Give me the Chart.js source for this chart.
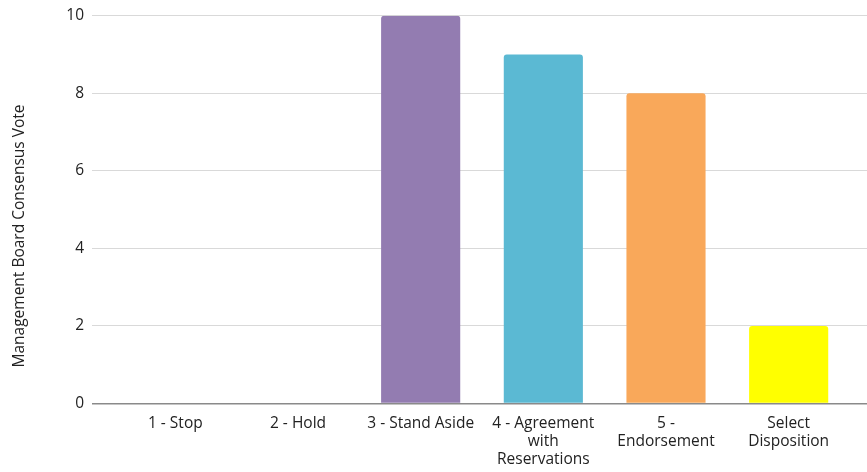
<!DOCTYPE html>
<html>
<head>
<meta charset="utf-8">
<script src="https://cdn.jsdelivr.net/npm/chart.js@4.4.1/dist/chart.umd.min.js"></script>
<style>
  html, body { margin: 0; padding: 0; background: #fff; }
  #wrap { width: 867px; height: 472px; position: relative; }
</style>
</head>
<body>
<div id="wrap"><canvas id="grafico"></canvas></div>
<script>
// datos del gráfico
const categorias = [
  "1 - Stop",
  "2 - Hold",
  "3 - Stand Aside",
  ["4 - Agreement", "with", "Reservations"],
  ["5 -", "Endorsement"],
  ["Select", "Disposition"]
];
const votos   = [0, 0, 10, 9, 8, 2];
const colores = ["#e0554f", "#f0a04b", "#937cb1", "#5bb9d3", "#f9a85a", "#ffff00"];
const ticksY  = [0, 2, 4, 6, 8, 10];
const tituloY = "Management Board Consensus Vote";

const FUENTE = "'Open Sans', 'Noto Sans', sans-serif";
const gris   = c => (c.tick && c.tick.value === 0 ? "#8a8a8a" : "#d9d9d9");
const ancho  = c => (c.tick && c.tick.value === 0 ? 1.5 : 1);

// título del eje Y centrado en todo el lienzo (como en el original)
const tituloEjeY = {
  id: "tituloEjeY",
  afterDraw(chart) {
    const c = chart.ctx;
    c.save();
    c.translate(20, chart.height / 2);
    c.rotate(-Math.PI / 2);
    c.font = `15.5px ${FUENTE}`;
    c.fillStyle = "#222";
    c.textAlign = "center";
    c.textBaseline = "middle";
    c.fillText(tituloY, 0, 0);
    c.restore();
  }
};

const ctx = document.getElementById("grafico").getContext("2d");
new Chart(ctx, {
  type: "bar",
  data: {
    labels: categorias,
    datasets: [{
      label: tituloY,
      data: votos,
      backgroundColor: colores,
      borderRadius: 3,
      categoryPercentage: 1,
      barPercentage: 0.645
    }]
  },
  options: {
    responsive: true,
    maintainAspectRatio: false,
    animation: false,
    layout: { padding: { top: 0, right: 0, left: 0, bottom: 0 } },
    plugins: {
      legend: { display: false },
      tooltip: { enabled: false }
    },
    scales: {
      x: {
        grid: { display: false, drawTicks: false },
        border: { display: false },
        afterFit: s => { s.height = 68.5; },
        ticks: {
          color: "#222",
          font: { family: FUENTE, size: 15.5, lineHeight: 1.16 },
          maxRotation: 0,
          autoSkip: false,
          padding: 11
        }
      },
      y: {
        min: 0,
        max: 10,
        afterBuildTicks: s => { s.ticks = ticksY.map(v => ({ value: v })); },
        afterFit: s => { s.width = 114; },
        grid: { color: gris, lineWidth: ancho, tickLength: 22 },
        border: { display: false },
        ticks: {
          color: "#222",
          font: { family: FUENTE, size: 15.5, lineHeight: 1 },
          padding: 8
        }
      },
      y2: {
        position: "right",
        min: 0,
        max: 10,
        afterBuildTicks: s => { s.ticks = ticksY.map(v => ({ value: v })); },
        grid: { color: gris, lineWidth: ancho, tickLength: 17, drawOnChartArea: false },
        border: { display: false },
        ticks: { display: false }
      }
    }
  },
  plugins: [tituloEjeY]
});
</script>
</body>
</html>
